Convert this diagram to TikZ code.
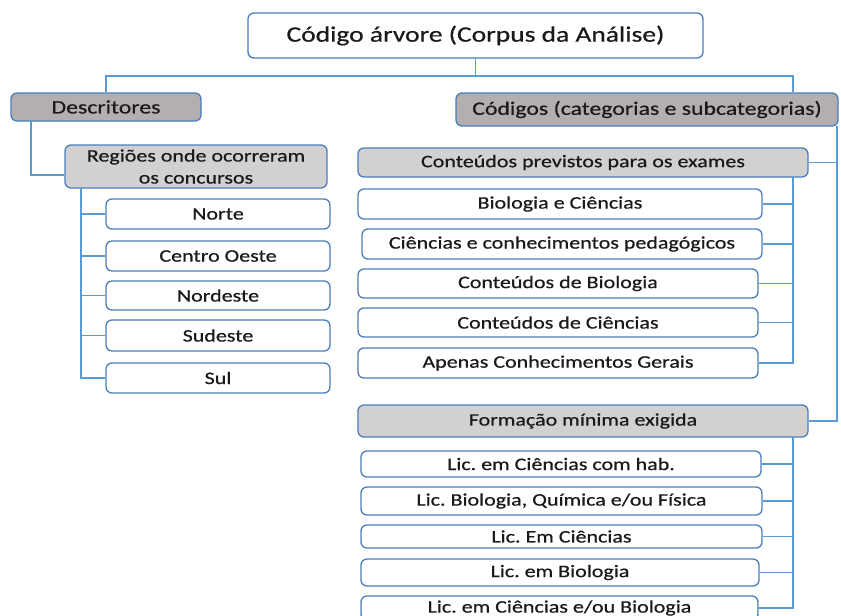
\documentclass[tikz,border=0pt]{standalone}
\usepackage{fontspec}
\setmainfont[FakeStretch=1.25,FakeBold=0.6]{Carlito}
\definecolor{conn}{HTML}{5B9BD5}
\definecolor{edge}{HTML}{4A7EBB}
\definecolor{darkfill}{HTML}{B4AFAE}
\definecolor{lightfill}{HTML}{D3D0D0}
\definecolor{txt}{HTML}{1A1A1A}
\begin{document}
\frenchspacing
\begin{tikzpicture}[x=1pt,y=-1pt,
  box/.style={draw=edge,line width=1.3pt,rounded corners=6pt,fill=white,inner sep=0pt,
    text=txt,font=\fontsize{17.6}{20}\selectfont,align=center},
  dbox/.style={box,fill=darkfill,font=\fontsize{19}{22}\selectfont},
  lbox/.style={box,fill=lightfill},
  conn/.style={draw=conn,line width=1.3pt}]
\clip (0,0) rectangle (841,616);
\fill[white] (0,0) rectangle (841,616);
% title
\node[box,font=\fontsize{22}{26}\selectfont,minimum width=455pt,minimum height=45pt] (title) at (475.5,35.5) {Código árvore (Corpus da Análise)};
\node[dbox,minimum width=190pt,minimum height=28pt] (desc) at (106,107) {Descritores};
\node[dbox,minimum width=382pt,minimum height=33pt] (cod) at (647,109.5) {Códigos (categorias e subcategorias)};
% left branch
\node[lbox,minimum width=262pt,minimum height=43pt,font=\fontsize{17.6}{22}\selectfont] (reg) at (196,166.5) {Regiões onde ocorreram\\os concursos};
\node[box,minimum width=224pt,minimum height=30pt] (norte) at (218,214) {Norte};
\node[box,minimum width=224pt,minimum height=30pt] (centro) at (218,256) {Centro Oeste};
\node[box,minimum width=224pt,minimum height=29pt] (nordeste) at (218,295.5) {Nordeste};
\node[box,minimum width=224pt,minimum height=31pt] (sudeste) at (218,335.5) {Sudeste};
\node[box,minimum width=224pt,minimum height=30pt] (sul) at (218,378) {Sul};
% right branch: conteudos
\node[lbox,minimum width=450pt,minimum height=29pt] (cont) at (583,162.5) {Conteúdos previstos para os exames};
\node[box,minimum width=404pt,minimum height=30pt] (c1) at (560,204) {Biologia e Ciências};
\node[box,minimum width=400pt,minimum height=30pt] (c2) at (562,244) {Ciências e conhecimentos pedagógicos};
\node[box,minimum width=400pt,minimum height=29pt] (c3) at (558,283.5) {Conteúdos de Biologia};
\node[box,minimum width=400pt,minimum height=29pt] (c4) at (558,322.5) {Conteúdos de Ciências};
\node[box,minimum width=400pt,minimum height=30pt] (c5) at (558,363) {Apenas Conhecimentos Gerais};
% formacao
\node[lbox,minimum width=450pt,minimum height=32pt] (form) at (583,421) {Formação mínima exigida};
\node[box,minimum width=400pt,minimum height=26pt] (f1) at (561,464) {Lic. em Ciências com hab.};
\node[box,minimum width=401pt,minimum height=28pt] (f2) at (561.5,501) {Lic. Biologia, Química e/ou Física};
\node[box,minimum width=401pt,minimum height=23pt] (f3) at (561.5,536.5) {Lic. Em Ciências};
\node[box,minimum width=398pt,minimum height=27pt] (f4) at (560,572.5) {Lic. em Biologia};
\node[box,minimum width=397pt,minimum height=24pt] (f5) at (559.5,608) {Lic. em Ciências e/ou Biologia};
% connectors
\coordinate (tjoin) at (475.5,76);
\coordinate (tr) at (793,76);
\draw[conn] (title.south) -- (tjoin);
\draw[conn] (desc.north) |- (tr) -- (cod.north -| tr);
\coordinate (dtrunk) at (31,121);
\draw[conn] (dtrunk) |- ([yshift=-8.5pt]reg.west);
\coordinate (rtrunk) at (81,188);
\foreach \n in {norte,centro,nordeste,sudeste,sul} \draw[conn] (rtrunk) |- (\n.west);
\coordinate (ctrunk) at (837,126);
\draw[conn] (ctrunk) |- (cont.east);
\draw[conn] (ctrunk) |- (form.east);
\coordinate (c2trunk) at (793,177);
\foreach \n in {c1,c2,c3,c4,c5} \draw[conn] (c2trunk) |- (\n.east);
\coordinate (ftrunk) at (793,437);
\foreach \n in {f1,f2,f3,f4,f5} \draw[conn] (ftrunk) |- (\n.east);
\end{tikzpicture}
\end{document}
